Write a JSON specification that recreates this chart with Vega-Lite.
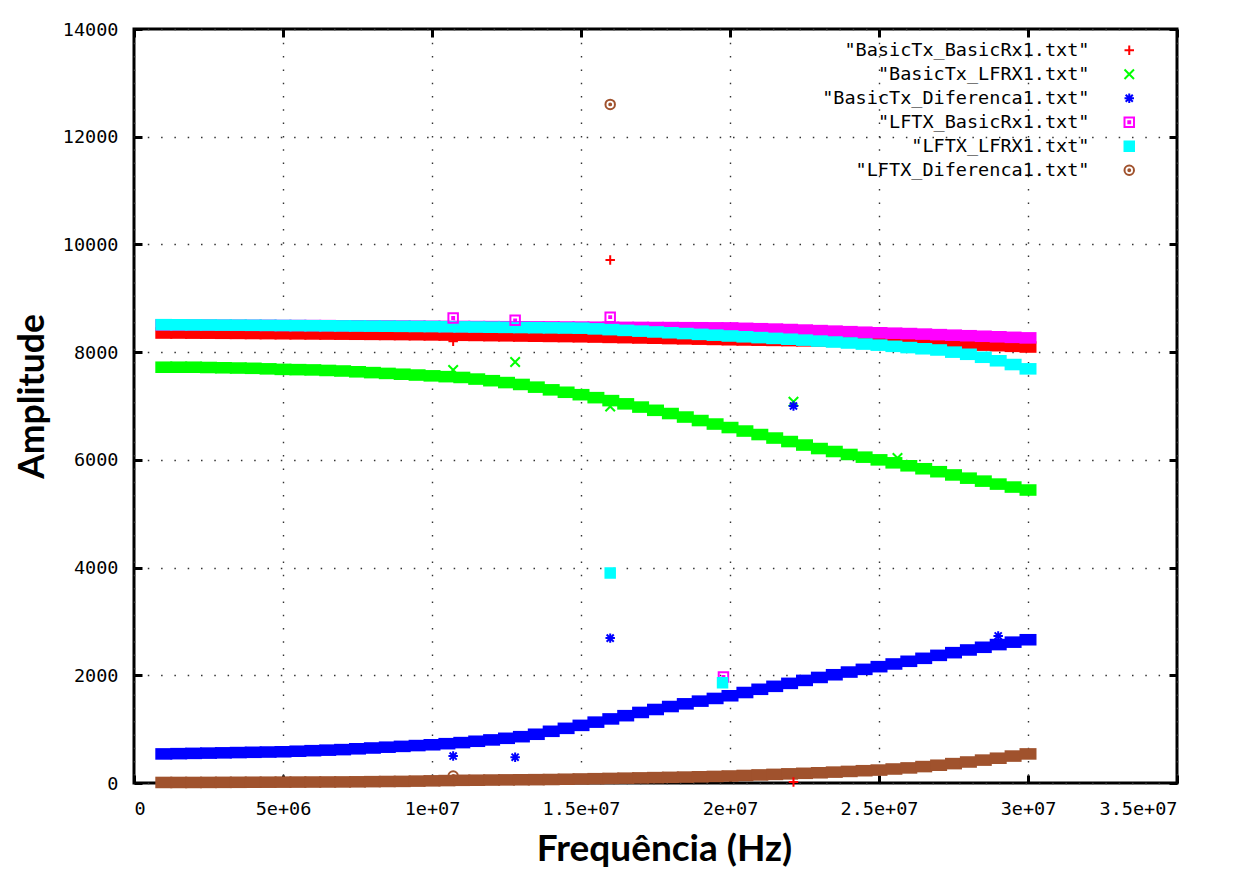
{
  "$schema": "https://vega.github.io/schema/vega-lite/v6.json",
  "width": 1043,
  "height": 754,
  "autosize": {"type": "none"},
  "padding": {"left": 134, "top": 29, "right": 60, "bottom": 96},
  "background": "white",
  "config": {
    "view": {"stroke": "#000", "strokeWidth": 3},
    "axis": {
      "domain": false,
      "tickColor": "#000",
      "tickWidth": 3,
      "tickSize": -8,
      "labelFont": "DejaVu Sans Mono",
      "labelFontSize": 18.5,
      "labelColor": "#000",
      "titleFont": "Lato",
      "titleFontWeight": "bold",
      "titleColor": "#000",
      "gridColor": "#333",
      "gridWidth": 1.4,
      "gridDash": [1.5, 11.8],
      "gridOpacity": 1
    }
  },
  "layer": [
    {
      "data": {"values": [
        {"f":1000000,"a":8355,"b":7720,"c":540,"d":8505,"e":8510,"g":10},
        {"f":1500000,"a":8355,"b":7720,"c":545,"d":8504,"e":8508,"g":10},
        {"f":2000000,"a":8353,"b":7720,"c":550,"d":8503,"e":8506,"g":10},
        {"f":2500000,"a":8352,"b":7715,"c":555,"d":8502,"e":8504,"g":11},
        {"f":3000000,"a":8350,"b":7710,"c":560,"d":8500,"e":8502,"g":12},
        {"f":3500000,"a":8348,"b":7705,"c":565,"d":8499,"e":8501,"g":13},
        {"f":4000000,"a":8346,"b":7700,"c":570,"d":8498,"e":8499,"g":14},
        {"f":4500000,"a":8344,"b":7690,"c":575,"d":8497,"e":8497,"g":15},
        {"f":5000000,"a":8342,"b":7680,"c":580,"d":8495,"e":8495,"g":16},
        {"f":5500000,"a":8340,"b":7675,"c":590,"d":8494,"e":8493,"g":17},
        {"f":6000000,"a":8338,"b":7670,"c":600,"d":8493,"e":8491,"g":18},
        {"f":6500000,"a":8336,"b":7660,"c":610,"d":8492,"e":8489,"g":19},
        {"f":7000000,"a":8334,"b":7650,"c":620,"d":8490,"e":8487,"g":20},
        {"f":7500000,"a":8332,"b":7635,"c":635,"d":8489,"e":8485,"g":22},
        {"f":8000000,"a":8330,"b":7620,"c":650,"d":8487,"e":8483,"g":25},
        {"f":8500000,"a":8328,"b":7605,"c":665,"d":8486,"e":8481,"g":28},
        {"f":9000000,"a":8326,"b":7590,"c":680,"d":8484,"e":8479,"g":30},
        {"f":9500000,"a":8323,"b":7575,"c":695,"d":8482,"e":8477,"g":35},
        {"f":10000000,"a":8320,"b":7560,"c":710,"d":8480,"e":8475,"g":40},
        {"f":10500000,"a":8317,"b":7545,"c":730,"d":8478,"e":8472,"g":45},
        {"f":11000000,"a":8313,"b":7530,"c":750,"d":8477,"e":8469,"g":50},
        {"f":11500000,"a":8310,"b":7500,"c":775,"d":8475,"e":8466,"g":52},
        {"f":12000000,"a":8306,"b":7470,"c":800,"d":8474,"e":8463,"g":55},
        {"f":12500000,"a":8303,"b":7435,"c":830,"d":8472,"e":8460,"g":58},
        {"f":13000000,"a":8299,"b":7400,"c":860,"d":8471,"e":8457,"g":60},
        {"f":13500000,"a":8296,"b":7350,"c":905,"d":8469,"e":8454,"g":62},
        {"f":14000000,"a":8292,"b":7300,"c":960,"d":8468,"e":8451,"g":65},
        {"f":14500000,"a":8289,"b":7255,"c":1015,"d":8466,"e":8448,"g":70},
        {"f":15000000,"a":8285,"b":7210,"c":1070,"d":8465,"e":8445,"g":75},
        {"f":15500000,"a":8280,"b":7155,"c":1130,"d":8463,"e":8432,"g":80},
        {"f":16000000,"a":8274,"b":7100,"c":1190,"d":8462,"e":8418,"g":85},
        {"f":16500000,"a":8269,"b":7040,"c":1250,"d":8460,"e":8404,"g":90},
        {"f":17000000,"a":8263,"b":6980,"c":1310,"d":8459,"e":8390,"g":95},
        {"f":17500000,"a":8258,"b":6920,"c":1365,"d":8457,"e":8375,"g":100},
        {"f":18000000,"a":8252,"b":6860,"c":1420,"d":8456,"e":8360,"g":105},
        {"f":18500000,"a":8247,"b":6795,"c":1470,"d":8454,"e":8345,"g":110},
        {"f":19000000,"a":8241,"b":6730,"c":1520,"d":8453,"e":8330,"g":115},
        {"f":19500000,"a":8236,"b":6665,"c":1570,"d":8451,"e":8315,"g":122},
        {"f":20000000,"a":8230,"b":6600,"c":1620,"d":8450,"e":8300,"g":130},
        {"f":20500000,"a":8226,"b":6535,"c":1680,"d":8442,"e":8285,"g":140},
        {"f":21000000,"a":8222,"b":6470,"c":1740,"d":8435,"e":8270,"g":150},
        {"f":21500000,"a":8218,"b":6405,"c":1795,"d":8428,"e":8255,"g":160},
        {"f":22000000,"a":8214,"b":6340,"c":1850,"d":8420,"e":8240,"g":170},
        {"f":22500000,"a":8210,"b":6275,"c":1905,"d":8410,"e":8223,"g":180},
        {"f":23000000,"a":8206,"b":6210,"c":1960,"d":8400,"e":8205,"g":190},
        {"f":23500000,"a":8202,"b":6155,"c":2010,"d":8390,"e":8188,"g":202},
        {"f":24000000,"a":8198,"b":6100,"c":2060,"d":8380,"e":8170,"g":215},
        {"f":24500000,"a":8194,"b":6050,"c":2110,"d":8370,"e":8150,"g":228},
        {"f":25000000,"a":8190,"b":6000,"c":2160,"d":8360,"e":8130,"g":240},
        {"f":25500000,"a":8182,"b":5945,"c":2210,"d":8352,"e":8108,"g":260},
        {"f":26000000,"a":8174,"b":5890,"c":2260,"d":8345,"e":8085,"g":280},
        {"f":26500000,"a":8166,"b":5835,"c":2315,"d":8335,"e":8063,"g":305},
        {"f":27000000,"a":8158,"b":5780,"c":2370,"d":8325,"e":8040,"g":330},
        {"f":27500000,"a":8150,"b":5720,"c":2420,"d":8315,"e":8000,"g":360},
        {"f":28000000,"a":8140,"b":5660,"c":2470,"d":8305,"e":7960,"g":390},
        {"f":28500000,"a":8130,"b":5605,"c":2520,"d":8295,"e":7905,"g":425},
        {"f":29000000,"a":8120,"b":5550,"c":2570,"d":8285,"e":7840,"g":460},
        {"f":29500000,"a":8108,"b":5495,"c":2615,"d":8275,"e":7770,"g":500},
        {"f":30000000,"a":8095,"b":5440,"c":2660,"d":8265,"e":7690,"g":540}
      ]},
      "transform": [{"fold": ["a", "b", "c", "d", "e", "g"], "as": ["key", "value"]}],
      "mark": {"type": "point", "filled": true, "shape": "M-1,-0.68H1V0.68H-1Z", "size": 289, "opacity": 1, "strokeWidth": 0},
      "encoding": {
        "x": {
          "field": "f", "type": "quantitative",
          "scale": {"domain": [0, 35000000], "nice": false, "zero": false},
          "axis": {
            "title": "Frequência (Hz)",
            "values": [0, 5000000, 10000000, 15000000, 20000000, 25000000, 30000000, 35000000],
            "labelExpr": "datum.value == 0 ? '0' : replace(format(datum.value, '.2~e'), 'e+', 'e+0')",
            "labelPadding": 24,
            "labelBaseline": "top",
            "grid": true,
            "titleFontSize": 37,
            "titleX": 530,
            "titleY": 77,
            "titleBaseline": "alphabetic",
            "titleAlign": "center"
          }
        },
        "y": {
          "field": "value", "type": "quantitative",
          "scale": {"domain": [0, 14000], "nice": false},
          "axis": {
            "title": "Amplitude",
            "values": [0, 2000, 4000, 6000, 8000, 10000, 12000, 14000],
            "format": "d",
            "labelPadding": 24,
            "grid": true,
            "titleFontSize": 35.5,
            "titleAngle": 270,
            "titleX": -91,
            "titleY": 367,
            "titleBaseline": "alphabetic",
            "titleAlign": "center"
          }
        },
        "color": {
          "field": "key", "type": "nominal",
          "scale": {"domain": ["a", "b", "c", "d", "e", "g"], "range": ["#ff0000", "#00ff00", "#0000ff", "#ff00ff", "#00ffff", "#a0522d"]},
          "legend": null
        },
        "order": {"field": "key"}
      }
    },
    {
      "data": {"values": [
        {"s": "a", "f": 10710000, "v": 8200},
        {"s": "a", "f": 15980000, "v": 9710},
        {"s": "a", "f": 22130000, "v": 20},
        {"s": "b", "f": 10710000, "v": 7668},
        {"s": "b", "f": 12790000, "v": 7817},
        {"s": "b", "f": 15980000, "v": 6990},
        {"s": "b", "f": 22130000, "v": 7080},
        {"s": "b", "f": 25620000, "v": 6034},
        {"s": "c", "f": 10710000, "v": 500},
        {"s": "c", "f": 12790000, "v": 480},
        {"s": "c", "f": 15980000, "v": 2690},
        {"s": "c", "f": 22130000, "v": 7000},
        {"s": "c", "f": 29000000, "v": 2730},
        {"s": "d", "f": 10710000, "v": 8633},
        {"s": "d", "f": 12790000, "v": 8590},
        {"s": "d", "f": 15980000, "v": 8650},
        {"s": "d", "f": 19780000, "v": 1970},
        {"s": "e", "f": 15980000, "v": 3900},
        {"s": "e", "f": 19750000, "v": 1860},
        {"s": "g", "f": 10710000, "v": 130},
        {"s": "g", "f": 15980000, "v": 12600}
      ]},
      "mark": {"type": "point", "filled": false, "size": 90, "strokeWidth": 2, "opacity": 1},
      "encoding": {
        "x": {
          "field": "f", "type": "quantitative",
          "scale": {"domain": [0, 35000000], "nice": false, "zero": false},
          "axis": {
            "orient": "top", "title": null, "labels": false, "grid": false,
            "values": [0, 5000000, 10000000, 15000000, 20000000, 25000000, 30000000, 35000000]
          }
        },
        "y": {
          "field": "v", "type": "quantitative",
          "scale": {"domain": [0, 14000], "nice": false},
          "axis": {
            "orient": "right", "title": null, "labels": false, "grid": false,
            "values": [0, 2000, 4000, 6000, 8000, 10000, 12000, 14000]
          }
        },
        "color": {
          "field": "s", "type": "nominal",
          "scale": {"domain": ["a", "b", "c", "d", "e", "g"], "range": ["#ff0000", "#00ff00", "#0000ff", "#ff00ff", "#00ffff", "#a0522d"]},
          "legend": {
            "orient": "none", "legendX": 986, "legendY": 12, "title": null, "padding": 0,
            "labelExpr": "datum.label=='a'?'\"BasicTx_BasicRx1.txt\"':datum.label=='b'?'\"BasicTx_LFRX1.txt\"':datum.label=='c'?'\"BasicTx_Diferenca1.txt\"':datum.label=='d'?'\"LFTX_BasicRx1.txt\"':datum.label=='e'?'\"LFTX_LFRX1.txt\"':'\"LFTX_Diferenca1.txt\"'",
            "labelAlign": "right", "labelOffset": -49, "labelLimit": 500,
            "labelFont": "DejaVu Sans Mono", "labelFontSize": 18.5, "labelColor": "#000",
            "symbolSize": 90, "symbolStrokeWidth": 2, "rowPadding": 5
          }
        },
        "shape": {
          "field": "s", "type": "nominal",
          "scale": {"domain": ["a", "b", "c", "d", "e", "g"], "range": [
            "M-1,0H1M0,-1V1",
            "M-1,-1L1,1M-1,1L1,-1",
            "M-1,0H1M0,-1V1M-0.75,-0.75L0.75,0.75M-0.75,0.75L0.75,-0.75",
            "M-1,-1H1V1H-1ZM-0.2,-0.2H0.2V0.2H-0.2Z",
            "M-1,-1H1V1H-1ZM-0.6,-0.6H0.6V0.6H-0.6ZM-0.2,-0.2H0.2V0.2H-0.2Z",
            "M-1,0A1,1,0,1,1,1,0A1,1,0,1,1,-1,0ZM-0.2,0A0.2,0.2,0,1,1,0.2,0A0.2,0.2,0,1,1,-0.2,0Z"
          ]}
        }
      }
    }
  ],
  "resolve": {
    "axis": {"x": "independent", "y": "independent"},
    "legend": {"color": "independent", "shape": "independent"}
  }
}
